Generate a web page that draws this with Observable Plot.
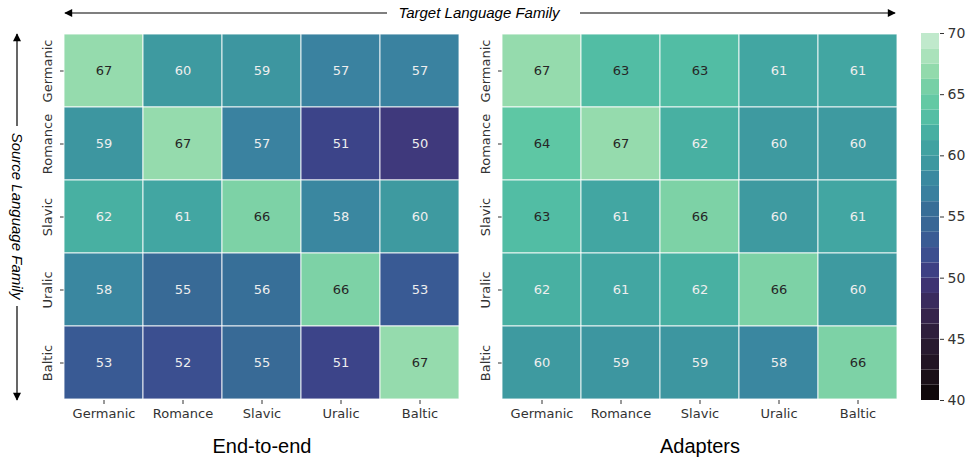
<!DOCTYPE html>
<html>
<head>
<meta charset="utf-8">
<script src="https://cdn.jsdelivr.net/npm/d3@7"></script>
<script src="https://cdn.jsdelivr.net/npm/@observablehq/plot@0.6"></script>
<style>
  html, body { margin: 0; padding: 0; background: #fff; }
  #fig { position: relative; width: 966px; height: 459px; overflow: hidden; background: #fff; }
  #fig > div, #fig > svg { position: absolute; }
</style>
</head>
<body>
<div id="fig"></div>
<script>
// ---- data ----
const families = ["Germanic", "Romance", "Slavic", "Uralic", "Baltic"];
const endToEnd = [
  [67, 60, 59, 57, 57],
  [59, 67, 57, 51, 50],
  [62, 61, 66, 58, 60],
  [58, 55, 56, 66, 53],
  [53, 52, 55, 51, 67]
];
const adapters = [
  [67, 63, 63, 61, 61],
  [64, 67, 62, 60, 60],
  [63, 61, 66, 60, 61],
  [62, 61, 62, 66, 60],
  [60, 59, 59, 58, 66]
];
const panelTitles = ["End-to-end", "Adapters"];
const colorDomain = [40, 70];
const colorTicks = [40, 45, 50, 55, 60, 65, 70];
const colorBandCount = 24;
const targetLabel = "Target Language Family";
const sourceLabel = "Source Language Family";

// mako-like colour stops (value -> colour)
const makoValues = [40, 42, 45, 47, 48, 49, 50, 51, 52, 53, 54, 55, 56, 57, 58, 59, 60, 61, 62, 63, 64, 65, 66, 67, 68, 69, 70];
const makoColors = ["#0b0405", "#1c1119", "#2b1c35", "#36234c", "#3a2a5c", "#3d306c", "#3f397c", "#3c4489", "#3b4f90", "#395a94", "#386395", "#386a96", "#376f98", "#3a82a0", "#3a87a0", "#3d96a0", "#3e9aa0", "#42a6a2", "#48b0a2", "#52bda4", "#5ec7a4", "#6dcda5", "#7dd2a6", "#95dbad", "#a8e1b9", "#b8e6c5", "#cdeed8"];
const makoScale = d3.scaleLinear()
  .domain(makoValues.map(v => (v - colorDomain[0]) / (colorDomain[1] - colorDomain[0])))
  .range(makoColors)
  .interpolate(d3.interpolateRgb)
  .clamp(true);
const makoInterp = t => makoScale(t);

const colorOpts = {type: "linear", domain: colorDomain, interpolate: makoInterp, legend: false};

function toTable(matrix) {
  return matrix.flatMap((row, i) => row.map((v, j) => ({source: families[i], target: families[j], value: v})));
}

const fig = document.getElementById("fig");
const font = "DejaVu Sans, Verdana, sans-serif";
const titleFont = "Liberation Sans, Arial, Helvetica, sans-serif";

function heatmap(matrix, title, left, width, marginLeft, marginRight) {
  const data = toTable(matrix);
  const p = Plot.plot({
    width, height: 459,
    marginLeft, marginRight, marginTop: 32, marginBottom: 59,
    style: {fontFamily: font, fontSize: "13px", color: "#333", background: "transparent"},
    x: {domain: families, padding: 0, tickSize: 4, tickPadding: 4, label: null},
    y: {domain: families, padding: 0, tickSize: 4, tickPadding: 9, tickRotate: -90, label: null},
    color: colorOpts,
    marks: [
      Plot.cell(data, {x: "target", y: "source", fill: "value", stroke: "#ffffff", strokeWidth: 1, strokeOpacity: 0.85}),
      Plot.text(data, {x: "target", y: "source", text: d => String(d.value), fill: d => d.value >= 63 ? "#262626" : "#eeeeee", fontSize: 13}),
      Plot.text([title], {frameAnchor: "bottom", dy: 52, text: d => d, fontSize: 20, fontFamily: titleFont, fill: "#000"})
    ]
  });
  const wrap = document.createElement("div");
  wrap.style.left = left + "px";
  wrap.style.top = "0px";
  wrap.appendChild(p);
  fig.appendChild(wrap);
}

heatmap(endToEnd, panelTitles[0], 0, 470, 64, 11);
heatmap(adapters, panelTitles[1], 440, 465, 62, 8);

// colour bar
const step = (colorDomain[1] - colorDomain[0]) / colorBandCount;
const bands = d3.range(colorBandCount).map(i => ({lo: colorDomain[0] + i * step, hi: colorDomain[0] + (i + 1) * step, mid: colorDomain[0] + (i + 0.5) * step}));
const cbar = Plot.plot({
  width: 61, height: 459,
  marginLeft: 16, marginRight: 27, marginTop: 33, marginBottom: 59,
  style: {fontFamily: font, fontSize: "14px", color: "#333", background: "transparent"},
  x: {domain: [0, 1], axis: null},
  y: {domain: colorDomain, axis: "right", ticks: colorTicks, tickSize: 4, tickPadding: 4, label: null, tickFormat: d => String(d)},
  color: colorOpts,
  marks: [
    Plot.rect(bands, {x1: 0, x2: 1, y1: "lo", y2: "hi", fill: "mid"})
  ]
});
const cwrap = document.createElement("div");
cwrap.style.left = "905px";
cwrap.style.top = "0px";
cwrap.appendChild(cbar);
fig.appendChild(cwrap);

// annotation arrows
const svg = d3.select(fig).append("svg")
  .attr("width", 966).attr("height", 459)
  .style("left", "0px").style("top", "0px")
  .style("pointer-events", "none");
const defs = svg.append("defs");
defs.append("marker").attr("id", "ah").attr("viewBox", "0 0 10 10")
  .attr("refX", 9).attr("refY", 5).attr("markerWidth", 11).attr("markerHeight", 8)
  .attr("markerUnits", "userSpaceOnUse").attr("orient", "auto")
  .append("path").attr("d", "M0,0 L10,5 L0,10 z").attr("fill", "#000");
const lines = [
  [387, 13, 65, 13],
  [580, 13, 895, 13],
  [17, 126, 17, 34],
  [17, 306, 17, 400]
];
svg.selectAll("line.arrow").data(lines).join("line")
  .attr("x1", d => d[0]).attr("y1", d => d[1]).attr("x2", d => d[2]).attr("y2", d => d[3])
  .attr("stroke", "#000").attr("stroke-width", 1.2).attr("marker-end", "url(#ah)");
svg.append("text").attr("x", 479).attr("y", 13).attr("dy", "0.35em")
  .attr("text-anchor", "middle").attr("font-style", "italic")
  .attr("font-family", titleFont).attr("font-size", 15).attr("fill", "#000")
  .text(targetLabel);
svg.append("text").attr("transform", "translate(17,216) rotate(90)").attr("dy", "0.35em")
  .attr("text-anchor", "middle").attr("font-style", "italic")
  .attr("font-family", titleFont).attr("font-size", 15).attr("fill", "#000")
  .text(sourceLabel);
</script>
</body>
</html>
